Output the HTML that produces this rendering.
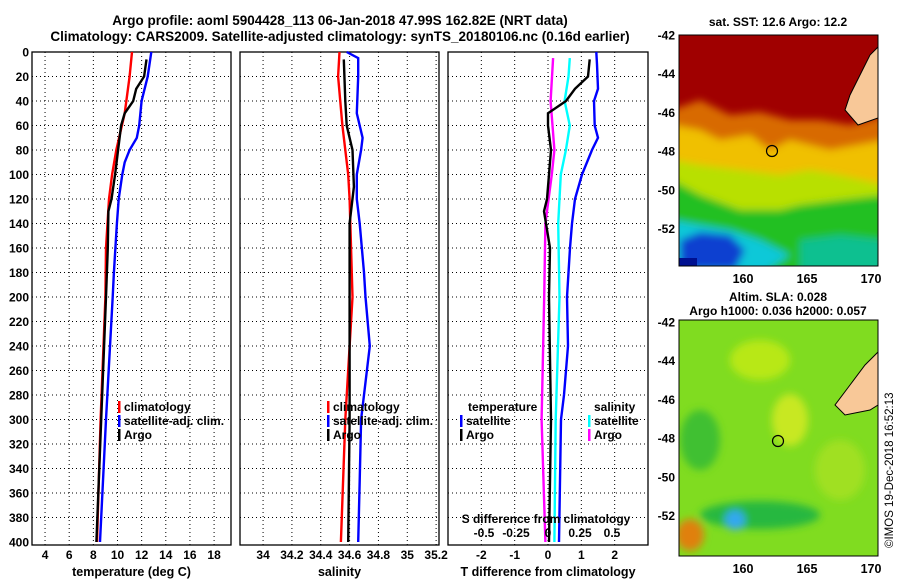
<!DOCTYPE html>
<html><head><meta charset="utf-8">
<style>
body{margin:0;background:#fff;}
svg{display:block;font-family:"Liberation Sans",sans-serif;font-weight:bold;}
</style></head>
<body>
<svg id="c" width="900" height="580" viewBox="0 0 900 580">
<defs>
<filter id="bl" x="-20%" y="-20%" width="140%" height="140%"><feGaussianBlur stdDeviation="4"/></filter>
<clipPath id="m1"><rect x="679" y="35" width="199" height="231"/></clipPath>
<clipPath id="m2"><rect x="679" y="320" width="199" height="236"/></clipPath>
</defs>
<text x="340" y="25" font-size="13.5" text-anchor="middle">Argo profile: aoml 5904428_113 06-Jan-2018 47.99S 162.82E (NRT data)</text>
<text x="340" y="41" font-size="13.5" text-anchor="middle">Climatology: CARS2009. Satellite-adjusted climatology: synTS_20180106.nc (0.16d earlier)</text>

<g>
<g clip-path="url(#m1)">
<rect x="679" y="35" width="199" height="231" fill="#a00000"/>
<g filter="url(#bl)">
<path d="M672 110 L700 100 L730 115 L760 112 L790 120 L820 120 L850 125 L885 115 L885 280 L672 280Z" fill="#d86a00"/>
<path d="M672 125 L700 130 L720 140 L750 135 L770 150 L790 140 L830 150 L885 140 L885 280 L672 280Z" fill="#f0c000"/>
<path d="M672 160 L700 165 L740 170 L780 175 L810 170 L840 175 L885 185 L885 280 L672 280Z" fill="#b8e000"/>
<path d="M672 180 L700 195 L740 210 L780 210 L800 205 L840 200 L885 195 L885 280 L672 280Z" fill="#20c020"/>
<path d="M672 220 L700 225 L730 230 L760 240 L790 255 L760 275 L672 275Z" fill="#10c8d8"/>
<path d="M680 240 L700 232 L730 235 L745 250 L735 270 L680 270Z" fill="#1040d0"/>
<path d="M800 240 L840 235 L885 240 L885 275 L800 275Z" fill="#10c090"/>
</g>
<rect x="679" y="258" width="18" height="8" fill="#001090"/>
<path d="M878 47 L870 55 L860 75 L850 95 L845 110 L858 125 L878 118Z" fill="#f8c898" stroke="#000" stroke-width="1"/>
<circle cx="772" cy="151" r="5.5" fill="none" stroke="#000" stroke-width="1.2"/>
</g>
<rect x="679" y="35" width="199" height="231" fill="none" stroke="#000" stroke-width="1"/>
<text x="778" y="26" font-size="12" text-anchor="middle">sat. SST: 12.6 Argo: 12.2</text>
</g>

<g>
<g clip-path="url(#m2)">
<rect x="679" y="320" width="199" height="236" fill="#80dc20"/>
<g filter="url(#bl)">
<ellipse cx="760" cy="360" rx="30" ry="20" fill="#b8e818"/>
<ellipse cx="700" cy="440" rx="20" ry="30" fill="#40c030"/>
<ellipse cx="790" cy="420" rx="18" ry="26" fill="#c8e820"/>
<ellipse cx="760" cy="515" rx="60" ry="14" fill="#28b840"/>
<ellipse cx="735" cy="520" rx="10" ry="10" fill="#30a8f0"/>
<ellipse cx="690" cy="535" rx="14" ry="16" fill="#e08010"/>
<ellipse cx="840" cy="470" rx="25" ry="30" fill="#a0e020"/>
</g>
<path d="M878 352 L865 365 L850 385 L835 405 L845 415 L870 410 L878 405Z" fill="#f8c898" stroke="#000" stroke-width="1"/>
<circle cx="778" cy="441" r="5.5" fill="none" stroke="#000" stroke-width="1.2"/>
</g>
<rect x="679" y="320" width="199" height="236" fill="none" stroke="#000" stroke-width="1"/>
<text x="778" y="301" font-size="12" text-anchor="middle">Altim. SLA: 0.028</text>
<text x="778" y="315" font-size="12" text-anchor="middle">Argo h1000: 0.036 h2000: 0.057</text>
</g>
<text transform="translate(893,548) rotate(-90)" font-size="11.5" font-weight="normal">©IMOS 19-Dec-2018 16:52:13</text>
</svg>
<script>
const NS="http://www.w3.org/2000/svg";
const svg=document.getElementById('c');
function el(t,a,p){const e=document.createElementNS(NS,t);for(const k in a)e.setAttribute(k,a[k]);(p||svg).appendChild(e);return e;}
// ---- data ----
const depthTicks=[0,20,40,60,80,100,120,140,160,180,200,220,240,260,280,300,320,340,360,380,400];
const tempTicks=[4,6,8,10,12,14,16,18];
const salTicks=[34,34.2,34.4,34.6,34.8,35,35.2];
const salTickLabels=["34","34.2","34.4","34.6","34.8","35","35.2"];
const dTTicks=[-2,-1,0,1,2];
const dSTicks=[-0.5,-0.25,0,0.25,0.5];
const dSTickLabels=["-0.5","-0.25","0","0.25","0.5"];
const climDepth=[0,20,50,80,100,120,160,200,300,400];
const climTemp=[11.2,11.0,10.6,9.9,9.55,9.3,9.05,9.0,8.6,8.3];
const satDepth=[0,20,40,60,70,80,90,100,120,140,180,200,300,400];
const satTemp=[12.8,12.5,12.0,11.8,11.6,11.0,10.6,10.4,10.1,9.95,9.7,9.6,9.05,8.55];
const argoDepth=[6,20,30,40,50,60,80,100,120,130,160,200,300,400];
const argoTemp=[12.4,12.2,11.55,11.3,10.6,10.3,10.05,9.8,9.5,9.25,9.2,9.05,8.65,8.25];
const climSalDepth=[0,20,60,100,120,200,300,400];
const climSal=[34.53,34.52,34.55,34.59,34.60,34.62,34.57,34.54];
const satSalDepth=[0,5,20,50,70,80,100,120,140,180,200,240,280,300,350,400];
const satSal=[34.58,34.66,34.66,34.65,34.69,34.68,34.65,34.65,34.67,34.70,34.71,34.74,34.70,34.68,34.67,34.66];
const argoSalDepth=[6,40,60,70,80,110,140,200,300,400];
const argoSal=[34.56,34.57,34.58,34.60,34.62,34.63,34.60,34.60,34.60,34.59];
const satDTDepth=[0,10,30,40,60,70,80,100,120,140,160,200,240,280,300,400];
const satDT=[1.45,1.47,1.5,1.38,1.4,1.5,1.32,1.02,0.81,0.72,0.66,0.57,0.6,0.48,0.39,0.33];
const argoDTDepth=[6,20,30,40,50,60,80,120,130,160,200,300,400];
const argoDT=[1.25,1.2,0.81,0.54,0.0,0.0,0.09,-0.03,-0.12,0.06,0.03,0.09,0.03];
const satDSDepth=[5,20,40,60,80,100,140,200,300,400];
const satDS=[0.17,0.16,0.13,0.17,0.14,0.10,0.08,0.09,0.06,0.05];
const argoDSDepth=[5,40,80,100,140,200,300,400];
const argoDS=[0.04,0.02,0.05,0.03,-0.02,-0.03,-0.05,-0.02];
// ---- axes ----
const Y0=52,Y1=542;
const yS=d=>Y0+(d/400)*(Y1-Y0);
const panels=[
 {x0:32,x1:231,d0:2.92,d1:19.4,name:'temperature'},
 {x0:240,x1:439,d0:33.84,d1:35.22,name:'salinity'},
 {x0:448,x1:648,d0:-3,d1:3,name:'difference'}];
const xS=(p,v)=>p.x0+(v-p.d0)/(p.d1-p.d0)*(p.x1-p.x0);
const sS=v=>548+v*128;
function grid(p,ticks,labs,lab){
  const g=el('g',{});
  
  
  el('rect',{x:p.x0,y:Y0,width:p.x1-p.x0,height:Y1-Y0+3,fill:'#fff',stroke:'#000','stroke-width':1.3},g);
  depthTicks.forEach(d=>{if(d>0&&d<400)el('line',{x1:p.x0,x2:p.x1,y1:yS(d),y2:yS(d),stroke:'#000','stroke-dasharray':'1 3','stroke-width':1},g);});
  ticks.forEach((t,i)=>{const x=xS(p,t);
    el('line',{x1:x,x2:x,y1:Y0,y2:Y1+3,stroke:'#000','stroke-dasharray':'1 3','stroke-width':1},g);
    const tx=el('text',{x:x,y:559,'font-size':12,'text-anchor':'middle'},g);tx.textContent=labs[i];
    
    });
  const t=el('text',{x:(p.x0+p.x1)/2,y:576,'font-size':12.5,'text-anchor':'middle'},g);t.textContent=lab;
  
  
  return g;
}
grid(panels[0],tempTicks,tempTicks.map(String),'temperature (deg C)');
grid(panels[1],salTicks,salTickLabels,'salinity');
grid(panels[2],dTTicks,dTTicks.map(String),'T difference from climatology');
depthTicks.forEach(d=>{const t=el('text',{x:29,y:yS(d)+4.5,'font-size':12,'text-anchor':'end'});t.textContent=d;
  
  });
// map axes
const lats=[-42,-44,-46,-48,-50,-52];
const lons=[160,165,170];
[[35,266],[320,556]].forEach((m,mi)=>{
  const lat0=mi==0?35:322;
  lats.forEach(l=>{const y=lat0+(-42-l)*19.35;
    const t=el('text',{x:675,y:y+4.5,'font-size':12,'text-anchor':'end'});t.textContent=l;
    
    });
  lons.forEach(l=>{const x=743+(l-160)*12.8;
    const t=el('text',{x:x,y:m[1]+17,'font-size':12.5,'text-anchor':'middle'});t.textContent=l;
    
    });
});
// ---- lines ----
function line(xs,ds,fx,color,name){
  const pts=xs.map((v,i)=>fx(v).toFixed(1)+','+yS(ds[i]).toFixed(1)).join(' ');
  const l=el('polyline',{points:pts,fill:'none',stroke:color,'stroke-width':2.4});
  
  
}
line(climTemp,climDepth,v=>xS(panels[0],v),'#f00','temp-climatology-line');
line(satTemp,satDepth,v=>xS(panels[0],v),'#00f','temp-satellite-line');
line(argoTemp,argoDepth,v=>xS(panels[0],v),'#000','temp-argo-line');
line(climSal,climSalDepth,v=>xS(panels[1],v),'#f00','sal-climatology-line');
line(satSal,satSalDepth,v=>xS(panels[1],v),'#00f','sal-satellite-line');
line(argoSal,argoSalDepth,v=>xS(panels[1],v),'#000','sal-argo-line');
line(satDS,satDSDepth,sS,'#0ff','ds-satellite-line');
line(argoDS,argoDSDepth,sS,'#f0f','ds-argo-line');
line(satDT,satDTDepth,v=>xS(panels[2],v),'#00f','dt-satellite-line');
line(argoDT,argoDTDepth,v=>xS(panels[2],v),'#000','dt-argo-line');
dSTicks.forEach((v,i)=>{const t=el('text',{x:sS(v),y:537,'font-size':12,'text-anchor':'middle'});t.textContent=dSTickLabels[i];
  
  });
{const t=el('text',{x:546,y:523,'font-size':12,'text-anchor':'middle'});t.textContent='S difference from climatology';

}
function leg(x,y,color,label,name){
  const g=el('g',{});
  
  
  el('rect',{x:x,y:y-10,width:2.5,height:12,fill:color},g);
  const t=el('text',{x:x+6,y:y,'font-size':12},g);t.textContent=label;
}
leg(118,411,'#f00','climatology','legend-temp-climatology');
leg(118,425,'#00f','satellite-adj. clim.','legend-temp-satellite');
leg(118,439,'#000','Argo','legend-temp-argo');
leg(327,411,'#f00','climatology','legend-sal-climatology');
leg(327,425,'#00f','satellite-adj. clim.','legend-sal-satellite');
leg(327,439,'#000','Argo','legend-sal-argo');
{const t=el('text',{x:468,y:411,'font-size':12});t.textContent='temperature';


const s=el('text',{x:594,y:411,'font-size':12});s.textContent='salinity';

}
leg(460,425,'#00f','satellite','legend-dt-satellite');
leg(460,439,'#000','Argo','legend-dt-argo');
leg(588,425,'#0ff','satellite','legend-ds-satellite');
leg(588,439,'#f0f','Argo','legend-ds-argo');
</script>
</body></html>
